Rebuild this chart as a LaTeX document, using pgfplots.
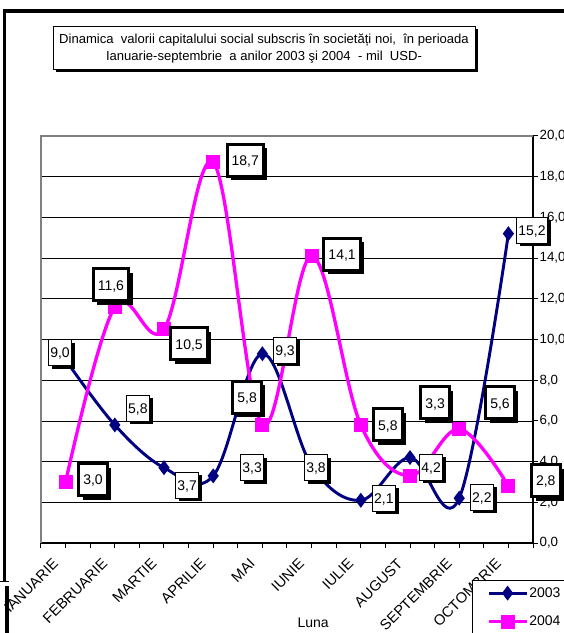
\documentclass[border=0pt]{standalone}
\usepackage{fontspec}
\setmainfont{Liberation Sans}
\usepackage{pgfplots}
\pgfplotsset{compat=1.18}
\usetikzlibrary{shadows}
\definecolor{navy}{RGB}{0,0,128}
\definecolor{mag}{RGB}{255,0,255}
\newcommand{\fs}{\fontsize{10.5}{12}\selectfont}
\pgfplotsset{frame/.style={at={(origin)}, anchor=south west,
  width=369pt, height=305.25pt, scale only axis,
  xmin=0.5, xmax=10.5, ymin=0, ymax=20, clip=false}}
\begin{document}
\begin{tikzpicture}[x=0.75pt,y=0.75pt,
  lab03/.style={draw=black, line width=0.75pt, fill=white, font=\fs,
    inner xsep=1.5pt, inner ysep=0pt, minimum height=19.5pt,
    text height=7.6pt, text depth=0pt,
    drop shadow={shadow xshift=2.5pt, shadow yshift=-2.5pt, fill=black, opacity=1}},
  lab04/.style={draw=black, line width=2.25pt, fill=white, font=\fs,
    inner xsep=3.4pt, inner ysep=0pt, minimum height=24pt,
    text height=7.6pt, text depth=0pt,
    drop shadow={shadow xshift=3pt, shadow yshift=-3pt, fill=black, opacity=1}}]
\useasboundingbox (0,0) rectangle (564,633);
\clip (0,0) rectangle (564,633);

% outer chart frame
\draw[line width=2.6pt] (4.5,51) -- (4.5,622) -- (564,622);
\draw[line width=0.75pt] (0,51) -- (9,51);
\draw[line width=3pt] (6.5,47) -- (6.5,0);

% title box
\fill[black] (56,561) rectangle (478,604);
\node[draw=black, line width=0.75pt, fill=white, minimum width=316.5pt,
  minimum height=32.25pt, align=center, inner sep=0pt,
  font=\fontsize{9.8}{13}\selectfont] at (264,584.5)
  {Dinamica\ \ valorii capitalului social subscris în societăți noi,\ \ în perioada\\
   Ianuarie-septembrie\ \ a anilor 2003 şi 2004\ \ - mil\ \ USD-};

\coordinate (origin) at (41,90);
\begin{axis}[frame,
  axis x line*=bottom, axis y line*=right,
  axis line style={black, line width=0.9pt, -},
  xtick={1,...,10},
  xticklabels={IANUARIE,FEBRUARIE,MARTIE,APRILIE,MAI,IUNIE,IULIE,AUGUST,SEPTEMBRIE,OCTOMBRIE},
  minor xtick={0.5,1.5,...,10.5},
  ytick={0,2,...,20},
  tick align=outside,
  major tick length=3.75pt, minor tick length=3.75pt,
  tick style={black, line width=0.75pt},
  ymajorgrids, grid style={black, line width=0.6pt},
  /pgf/number format/assume math mode=true,
  ticklabel style={font=\fontsize{10}{12}\selectfont},
  xticklabel style={font=\fontsize{11}{13}\selectfont, rotate=45, anchor=north east,
    inner sep=0pt, xshift=-12.2pt, yshift=2.3pt},
  yticklabel style={anchor=west, inner sep=0pt, xshift=1pt,
    /pgf/number format/.cd, fixed, fixed zerofill, precision=1, use comma},
  scaled y ticks=false,
  legend style={at={(axis description cs:0.876,-0.0909)}, anchor=north west,
    draw=black, line width=0.9pt, fill=white, font=\fs,
    inner xsep=11pt, inner ysep=4pt, row sep=10.5pt, nodes={inner sep=1pt}},
  legend cell align=left,
  legend image code/.code={\draw[mark repeat=2,mark phase=2,#1] plot coordinates {(0pt,0pt) (14pt,0pt) (28pt,0pt)};},
]
\draw[gray, line width=1.2pt] (rel axis cs:0,0) -- (rel axis cs:0,1) -- (rel axis cs:1,1);

\addplot[navy, line width=2.2pt, smooth, tension=0.6, mark=diamond*, mark size=3.8pt, mark options={solid}]
  coordinates {(1,9.0) (2,5.8) (3,3.7) (4,3.3) (5,9.3) (6,3.8) (7,2.1) (8,4.2) (9,2.2) (10,15.2)};
\addlegendentry{2003}
\addplot[mag, line width=2.5pt, smooth, tension=0.6, mark=square*, mark size=4pt, mark options={solid}]
  coordinates {(1,3.0) (2,11.6) (3,10.5) (4,18.7) (5,5.8) (6,14.1) (7,5.8) (8,3.3) (9,5.6) (10,2.8)};
\addlegendentry{2004}

\node[font=\fs] at (axis cs:6.03,-3.93) {Luna};
\end{axis}

% data labels, drawn over the curves
\begin{axis}[frame, hide axis]
% 2003
\node[lab03] at (axis cs:0.886,9.34) {9,0};
\node[lab03] at (axis cs:2.47,6.63) {5,8};
\node[lab03] at (axis cs:3.47,2.85) {3,7};
\node[lab03] at (axis cs:4.79,3.69) {3,3};
\node[lab03] at (axis cs:5.46,9.48) {9,3};
\node[lab03] at (axis cs:6.09,3.69) {3,8};
\node[lab03] at (axis cs:7.47,2.21) {2,1};
\node[lab03] at (axis cs:8.43,3.73) {4,2};
\node[lab03] at (axis cs:9.46,2.26) {2,2};
\node[lab03] at (axis cs:10.48,15.38) {15,2};
% 2004
\node[lab04] at (axis cs:1.557,3.10) {3,0};
\node[lab04] at (axis cs:1.92,12.68) {11,6};
\node[lab04] at (axis cs:3.51,9.78) {10,5};
\node[lab04] at (axis cs:4.65,18.82) {18,7};
\node[lab04] at (axis cs:4.69,7.17) {5,8};
\node[lab04] at (axis cs:6.62,14.20) {14,1};
\node[lab04] at (axis cs:7.55,5.80) {5,8};
\node[lab04] at (axis cs:8.51,6.88) {3,3};
\node[lab04] at (axis cs:9.83,6.88) {5,6};
\node[lab04] at (axis cs:10.76,3.05) {2,8};
\end{axis}
\end{tikzpicture}
\end{document}
